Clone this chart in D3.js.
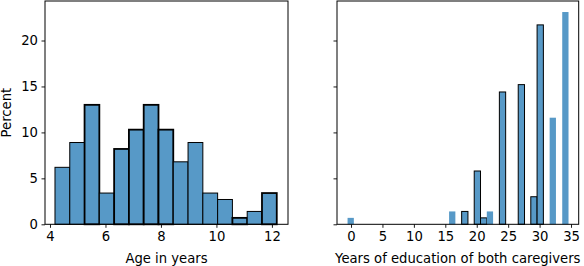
<!DOCTYPE html>
<html lang="en">
<head>
<meta charset="UTF-8">
<title>Age and caregiver education histograms</title>
<script src="https://cdnjs.cloudflare.com/ajax/libs/d3/7.8.2/d3.min.js"></script>
<style>
    body { margin: 0; background: #fff; font-family: "DejaVu Sans", sans-serif; }
    svg text { fill: #000; }
</style>
</head>
<body>
<div id="chart"></div>
<script>
    // Left panel: age histogram (15 bins, 4.18 .. 12.17)
    const ageStart = 4.18;
    const ageBinWidth = 0.533;
    const agePercent = [6.2, 8.9, 13.0, 3.4, 8.2, 10.3, 13.0, 10.3, 6.8, 8.9, 3.4, 2.7, 0.7, 1.4, 3.4];
    const ageTicks = [4, 6, 8, 10, 12];

    // Right panel: education histogram (bin left edges, width 1)
    const eduBinStart = [-0.55, 15.6, 17.6, 19.6, 20.6, 21.6, 23.6, 26.6, 28.6, 29.6, 31.6, 33.6];
    const eduPercent = [0.7, 1.4, 1.4, 5.8, 0.7, 1.4, 14.4, 15.2, 3.0, 21.7, 11.6, 23.1];
    const eduTicks = [0, 5, 10, 15, 20, 25, 30, 35];

    const percentTicks = [0, 5, 10, 15, 20];

    // which bars get a black outline
    const ageThick = new Set([2, 4, 5, 6, 7, 12, 14]);
    const eduEdged = new Set([2, 3, 4, 6, 7, 8, 9]);

    const W = 584, H = 266;
    const fill = "rgb(87,153,199)";
    const fs = 13.2;

    const svg = d3.select("#chart").append("svg")
        .attr("width", W).attr("height", H);

    const y = d3.scaleLinear().domain([0, 24.3]).range([224.3, 1]);

    function panel(left, right, xDomain, ticks, showYLabels) {
        const x = d3.scaleLinear().domain(xDomain).range([left, right]);
        const g = svg.append("g");

        const xAxis = g.append("g")
            .attr("transform", `translate(0,${y(0)})`)
            .call(d3.axisBottom(x).tickValues(ticks).tickSize(3.5).tickPadding(3.5).tickFormat(d3.format("d")));
        const yAxis = g.append("g")
            .attr("transform", `translate(${left},0)`)
            .call(d3.axisLeft(y).tickValues(percentTicks).tickSize(3.5).tickPadding(3.5)
                .tickFormat(showYLabels ? d3.format("d") : ""));

        [xAxis, yAxis].forEach(a => {
            a.select(".domain").remove();
            a.selectAll("text").attr("font-size", fs).attr("font-family", "DejaVu Sans");
            a.selectAll("line").attr("stroke", "#000").attr("stroke-width", 0.9);
        });
        return { x, g };
    }

    function frame(g, left, right) {
        g.append("rect")
            .attr("x", left).attr("y", y.range()[1])
            .attr("width", right - left).attr("height", y(0) - y.range()[1])
            .attr("fill", "none").attr("stroke", "#000").attr("stroke-width", 1);
    }

    // left panel
    const L = panel(45, 288, [3.82, 12.58], ageTicks, true);
    L.g.selectAll("rect.bar").data(agePercent).enter().append("rect")
        .attr("class", "bar")
        .attr("x", (d, i) => L.x(ageStart + i * ageBinWidth))
        .attr("width", (d, i) => L.x(ageStart + (i + 1) * ageBinWidth) - L.x(ageStart + i * ageBinWidth))
        .attr("y", d => y(d))
        .attr("height", d => y(0) - y(d))
        .attr("fill", fill)
        .attr("stroke", "#000")
        .attr("stroke-width", (d, i) => ageThick.has(i) ? 1.8 : 1);
    frame(L.g, 45, 288);

    // right panel
    const R = panel(337, 578.7, [-2.23, 36.22], eduTicks, false);
    R.g.selectAll("rect.bar").data(eduPercent).enter().append("rect")
        .attr("class", "bar")
        .attr("x", (d, i) => R.x(eduBinStart[i]))
        .attr("width", (d, i) => R.x(eduBinStart[i] + 1) - R.x(eduBinStart[i]))
        .attr("y", d => y(d))
        .attr("height", d => y(0) - y(d))
        .attr("fill", fill)
        .attr("stroke", (d, i) => eduEdged.has(i) ? "#000" : "none")
        .attr("stroke-width", 1);
    frame(R.g, 337, 578.7);

    // axis titles
    svg.append("text")
        .attr("x", 166.5).attr("y", 263)
        .attr("text-anchor", "middle").attr("font-size", fs)
        .text("Age in years");
    svg.append("text")
        .attr("x", 457.8).attr("y", 263)
        .attr("text-anchor", "middle").attr("font-size", fs)
        .text("Years of education of both caregivers");
    svg.append("text")
        .attr("transform", "translate(11,112.6) rotate(-90)")
        .attr("text-anchor", "middle").attr("font-size", fs)
        .text("Percent");
</script>
</body>
</html>
